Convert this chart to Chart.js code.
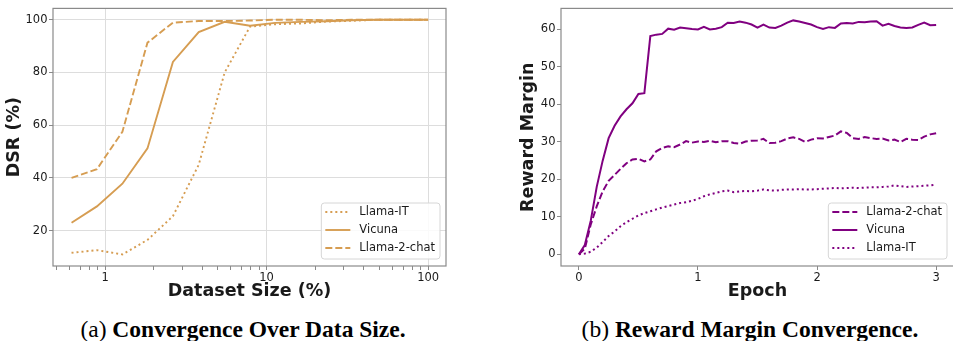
<!DOCTYPE html>
<html>
<head>
<meta charset="utf-8">
<script src="https://cdn.jsdelivr.net/npm/chart.js@4"></script>
<style>
  body { margin: 0; width: 953px; height: 341px; background: #fff; position: relative; overflow: hidden; }
  canvas { position: absolute; top: 0; }
  #c1 { left: 0; }
  #c2 { left: 480px; }
  .cap { position: absolute; top: 318px; font-family: "Liberation Serif", serif; font-size: 23.5px; line-height: 23.5px; color: #000; text-align: center; white-space: nowrap; }
  .cap b { font-weight: bold; }
</style>
</head>
<body>
<canvas id="c1" width="480" height="300"></canvas>
<canvas id="c2" width="480" height="300"></canvas>
<div class="cap" style="left:43px;width:400px">(a) <b>Convergence Over Data Size.</b></div>
<div class="cap" style="left:550px;width:400px">(b) <b>Reward Margin Convergence.</b></div>
<script>
// left panel: DSR vs dataset size (log x)
let sizes = [0.62, 0.89, 1.28, 1.83, 2.63, 3.8, 5.5, 7.9, 11.3, 16.3, 23.4, 33.6, 48.3, 69.5, 100];
let dsrLlamaIT = [11.6, 12.6, 11.0, 16.5, 25.5, 45, 80, 97.4, 98.3, 98.6, 99.3, 99.6, 100, 100, 100];
let dsrVicuna = [23, 29.2, 37.8, 51.2, 84, 95.3, 99.2, 97.7, 98.8, 99.2, 99.4, 99.8, 100, 100, 100];
let dsrChat = [40, 43.3, 57.5, 91.3, 98.9, 99.5, 99.5, 99.7, 100, 100, 99.8, 100, 100, 100, 100];
let sizeTicks = [0.5, 0.6, 0.7, 0.8, 0.9, 1, 2, 3, 4, 5, 6, 7, 8, 9, 10, 20, 30, 40, 50, 60, 70, 80, 90, 100];
let sizeLabels = [1, 10, 100];
let dsrTicks = [20, 40, 60, 80, 100];

// right panel: reward margin vs epoch
let epochs = [0, 0.05, 0.1, 0.15, 0.2, 0.25, 0.3, 0.35, 0.4, 0.45, 0.5, 0.55, 0.6, 0.65, 0.7, 0.75, 0.8, 0.85, 0.9, 0.95,
    1, 1.05, 1.1, 1.15, 1.2, 1.25, 1.3, 1.35, 1.4, 1.45, 1.5, 1.55, 1.6, 1.65, 1.7, 1.75, 1.8, 1.85, 1.9, 1.95,
    2, 2.05, 2.1, 2.15, 2.2, 2.25, 2.3, 2.35, 2.4, 2.45, 2.5, 2.55, 2.6, 2.65, 2.7, 2.75, 2.8, 2.85, 2.9, 2.95, 3];
let rmChat = [0, 1.5, 8, 12.8, 16.8, 19.6, 21.2, 22.8, 24.3, 25.3, 25.5, 24.8, 25.3, 27.5, 28.4, 28.8, 28.6, 29.3, 30.2, 29.8,
    30.1, 30.0, 30.3, 29.9, 30.2, 30.2, 29.7, 29.5, 30.1, 30.3, 30.4, 30.8, 29.7, 29.8, 30.2, 30.9, 31.2, 30.8, 30.0, 30.6,
    31.0, 30.9, 31.3, 31.7, 32.8, 32.4, 31.0, 30.8, 31.3, 31.0, 30.8, 30.9, 30.4, 30.6, 30.0, 30.8, 30.6, 30.5, 31.4, 32.0, 32.3];
let rmVicuna = [0, 2.5, 9, 18, 25, 31, 34.3, 36.8, 38.7, 40.3, 42.8, 43.0, 58.2, 58.6, 58.8, 60.2, 59.9, 60.5, 60.3, 60.1,
    60.0, 60.7, 60.0, 60.2, 60.6, 61.8, 61.7, 62.1, 61.8, 61.3, 60.5, 61.3, 60.5, 60.4, 61.0, 61.8, 62.4, 62.1, 61.7, 61.3,
    60.6, 60.1, 60.6, 60.4, 61.6, 61.7, 61.6, 62.0, 61.9, 62.1, 62.2, 61.0, 61.5, 60.9, 60.5, 60.4, 60.5, 61.2, 61.8, 61.1, 61.2];
let rmLlamaIT = [0, 0.2, 0.7, 1.8, 3.3, 4.9, 6.1, 7.5, 8.6, 9.5, 10.4, 11.0, 11.5, 12.0, 12.5, 12.9, 13.3, 13.7, 13.9, 14.3,
    14.8, 15.5, 16.0, 16.4, 16.8, 17.0, 16.6, 16.8, 16.9, 16.8, 17.0, 17.3, 17.1, 17.0, 17.2, 17.3, 17.3, 17.4, 17.3, 17.3,
    17.4, 17.5, 17.6, 17.7, 17.6, 17.7, 17.8, 17.7, 17.8, 17.9, 17.9, 18.0, 18.1, 18.4, 18.2, 18.0, 18.1, 18.2, 18.3, 18.4, 18.6];
let epochTicks = [0, 1, 2, 3];
let rmTicks = [0, 10, 20, 30, 40, 50, 60];

const TAN = '#d69d52';
const PURPLE = '#800080';
const SPINE = '#8a8a8a';
const GRID = '#dddddd';
const TXT = '#1a1a1a';
const DOT = [2, 3];
const DASH = [7, 3];

Chart.defaults.font.family = '"DejaVu Sans", sans-serif';
Chart.defaults.color = TXT;
Chart.defaults.animation = false;

function pts(xs, ys) {
    return xs.map((x, i) => ({x: x, y: ys[i]}));
}

function line(label, xs, ys, color, dash, w) {
    return {
        label: label,
        data: pts(xs, ys),
        borderColor: color,
        backgroundColor: color,
        borderWidth: w,
        borderDash: dash,
        pointRadius: 0,
        tension: 0,
        fill: false
    };
}

// box around the plot area, like matplotlib spines
const frame = {
    id: 'frame',
    beforeDatasetsDraw(chart) {
        let a = chart.chartArea;
        let ctx = chart.ctx;
        ctx.save();
        ctx.strokeStyle = SPINE;
        ctx.lineWidth = 1.2;
        ctx.strokeRect(a.left, a.top, a.right - a.left, a.bottom - a.top);
        ctx.restore();
    }
};

// legend inside the lower right corner
const boxLegend = {
    id: 'boxLegend',
    afterDraw(chart, args, opts) {
        let ctx = chart.ctx;
        let a = chart.chartArea;
        ctx.save();
        ctx.font = '11.5px "DejaVu Sans"';
        let sets = chart.data.datasets;
        let tw = Math.max(...sets.map(d => ctx.measureText(d.label).width));
        let w = 4 + 25 + 9 + tw + 5;
        let h = 56;
        let x = opts.right - w;
        let y = a.bottom - opts.bottom - h;
        ctx.beginPath();
        ctx.roundRect(x, y, w, h, 3);
        ctx.fillStyle = 'rgba(255,255,255,0.85)';
        ctx.fill();
        ctx.strokeStyle = '#d6d6d6';
        ctx.lineWidth = 1;
        ctx.stroke();
        sets.forEach((d, i) => {
            let cy = y + 9 + i * 18;
            ctx.beginPath();
            ctx.setLineDash(d.borderDash);
            ctx.strokeStyle = d.borderColor;
            ctx.lineWidth = d.borderWidth;
            ctx.moveTo(x + 4, cy);
            ctx.lineTo(x + 29, cy);
            ctx.stroke();
            ctx.setLineDash([]);
            ctx.fillStyle = TXT;
            ctx.textBaseline = 'middle';
            ctx.fillText(d.label, x + 38, cy + 0.5);
        });
        ctx.restore();
    }
};

function fixW(w) {
    return function (scale) { scale.width = w; };
}
function fixH(h) {
    return function (scale) { scale.height = h; };
}
function setTicks(list) {
    return function (scale) { scale.ticks = list.map(v => ({value: v})); };
}

let c1 = new Chart(document.getElementById('c1'), {
    type: 'line',
    data: {
        datasets: [
            line('Llama-IT', sizes, dsrLlamaIT, TAN, DOT, 1.9),
            line('Vicuna', sizes, dsrVicuna, TAN, [], 1.9),
            line('Llama-2-chat', sizes, dsrChat, TAN, DASH, 1.9)
        ]
    },
    options: {
        responsive: false,
        layout: {padding: {top: 5, right: 34, left: 0, bottom: 0}},
        plugins: {
            legend: {display: false},
            tooltip: {enabled: false},
            boxLegend: {right: 440, bottom: 7}
        },
        scales: {
            x: {
                type: 'logarithmic',
                min: 0.476,
                max: 129,
                afterBuildTicks: setTicks(sizeTicks),
                afterFit: fixH(34),
                border: {display: false},
                grid: {
                    color: c => sizeLabels.includes(c.tick && c.tick.value) ? GRID : 'rgba(0,0,0,0)',
                    tickColor: SPINE,
                    tickLength: 4,
                    lineWidth: 1
                },
                ticks: {
                    autoSkip: false,
                    maxRotation: 0,
                    padding: 1,
                    font: {size: 11.5},
                    callback: v => sizeLabels.includes(v) ? String(v) : ''
                },
                title: {display: true, text: 'Dataset Size (%)', font: {size: 17.5, weight: 'bold', lineHeight: 1}, padding: {top: 0, bottom: 0}}
            },
            y: {
                min: 6.6,
                max: 104.3,
                afterBuildTicks: setTicks(dsrTicks),
                afterFit: fixW(53),
                border: {display: false},
                grid: {color: GRID, tickColor: SPINE, tickLength: 4},
                ticks: {padding: 1.5, font: {size: 11.5}},
                title: {display: true, text: 'DSR (%)', font: {size: 17.5, weight: 'bold', lineHeight: 1}, padding: {top: 6, bottom: 0}}
            }
        }
    },
    plugins: [frame, boxLegend]
});

let c2 = new Chart(document.getElementById('c2'), {
    type: 'line',
    data: {
        datasets: [
            line('Llama-2-chat', epochs, rmChat, PURPLE, DASH, 2),
            line('Vicuna', epochs, rmVicuna, PURPLE, [], 2),
            line('Llama-IT', epochs, rmLlamaIT, PURPLE, DOT, 2)
        ]
    },
    options: {
        responsive: false,
        layout: {padding: {top: 5, right: 6, left: 0, bottom: 0}},
        plugins: {
            legend: {display: false},
            tooltip: {enabled: false},
            boxLegend: {right: 467, bottom: 7}
        },
        scales: {
            x: {
                type: 'linear',
                min: -0.15,
                max: 3.15,
                afterBuildTicks: setTicks(epochTicks),
                afterFit: fixH(34),
                border: {display: false},
                grid: {drawOnChartArea: false, tickColor: SPINE, tickLength: 4},
                ticks: {padding: 1, maxRotation: 0, font: {size: 11.5}},
                title: {display: true, text: 'Epoch', font: {size: 17.5, weight: 'bold', lineHeight: 1}, padding: {top: 0, bottom: 0}}
            },
            y: {
                min: -3.1,
                max: 65.6,
                afterBuildTicks: setTicks(rmTicks),
                afterFit: fixW(81),
                border: {display: false},
                grid: {drawOnChartArea: false, tickColor: SPINE, tickLength: 4},
                ticks: {padding: 1.5, font: {size: 11.5}},
                title: {display: true, text: 'Reward Margin', font: {size: 17.5, weight: 'bold', lineHeight: 1}, padding: {top: 39.5, bottom: 0}}
            }
        }
    },
    plugins: [frame, boxLegend]
});
</script>
</body>
</html>
